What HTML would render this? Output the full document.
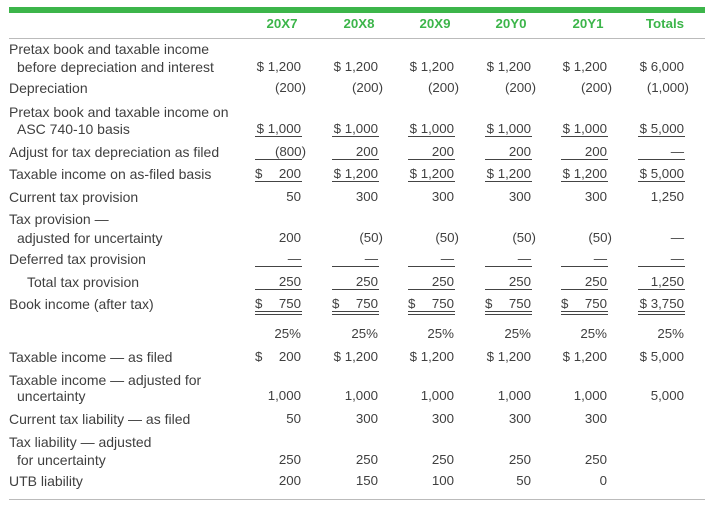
<!DOCTYPE html>
<html><head><meta charset="utf-8"><style>
body{margin:0;width:705px;height:507px;background:#fff;position:relative;overflow:hidden;font-family:"Liberation Sans",sans-serif;font-size:13.3px;color:#3f3f3f}
div{position:absolute;white-space:nowrap;line-height:16px;height:16px}
.l,.l2,.l3{font-size:14px}
.l{left:9px}.l2{left:17px}.l3{left:27px}
.h{color:#3cb54a;font-weight:bold;width:70px;text-align:center;top:16px}
.v{width:70px;text-align:right}
.a{left:231px}.b{left:308px}.c{left:384px}.d{left:461px}.e{left:537px}.f{left:614px}
.u{height:0;border-top:1px solid #444;width:47px}
.ua{left:255px}.ub{left:332px}.uc{left:408px}.ud{left:485px}.ue{left:561px}.uf{left:638px}
.s{width:46px;height:16px}
.s span{position:absolute;left:0}
.s b{font-weight:normal;position:absolute;right:0}
</style></head><body>
<div style="left:9px;top:7px;width:696px;height:6px;background:#3cb54a"></div>
<div style="left:9px;top:38px;width:696px;height:0;border-top:1px solid #bbb"></div>
<div style="left:9px;top:499px;width:696px;height:0;border-top:1px solid #bbb"></div>

<div class="h" style="left:247px">20X7</div>
<div class="h" style="left:324px">20X8</div>
<div class="h" style="left:400px">20X9</div>
<div class="h" style="left:476px">20Y0</div>
<div class="h" style="left:553px">20Y1</div>
<div class="h" style="left:630px">Totals</div>

<div class="l" style="top:41px">Pretax book and taxable income</div>
<div class="l2" style="top:59px">before depreciation and interest</div>
<div class="v a" style="top:59px">$ 1,200</div><div class="v b" style="top:59px">$ 1,200</div><div class="v c" style="top:59px">$ 1,200</div><div class="v d" style="top:59px">$ 1,200</div><div class="v e" style="top:59px">$ 1,200</div><div class="v f" style="top:59px">$ 6,000</div>

<div class="l" style="top:80px">Depreciation</div>
<div class="v a" style="top:80px;left:236px">(200)</div><div class="v b" style="top:80px;left:313px">(200)</div><div class="v c" style="top:80px;left:389px">(200)</div><div class="v d" style="top:80px;left:466px">(200)</div><div class="v e" style="top:80px;left:542px">(200)</div><div class="v f" style="top:80px;left:619px">(1,000)</div>

<div class="l" style="top:104px">Pretax book and taxable income on</div>
<div class="l2" style="top:121px">ASC 740-10 basis</div>
<div class="v a" style="top:121px">$ 1,000</div><div class="v b" style="top:121px">$ 1,000</div><div class="v c" style="top:121px">$ 1,000</div><div class="v d" style="top:121px">$ 1,000</div><div class="v e" style="top:121px">$ 1,000</div><div class="v f" style="top:121px">$ 5,000</div>
<div class="u ua" style="top:136px"></div><div class="u ub" style="top:136px"></div><div class="u uc" style="top:136px"></div><div class="u ud" style="top:136px"></div><div class="u ue" style="top:136px"></div><div class="u uf" style="top:136px"></div>

<div class="l" style="top:144px">Adjust for tax depreciation as filed</div>
<div class="v a" style="top:144px;left:236px">(800)</div><div class="v b" style="top:144px">200</div><div class="v c" style="top:144px">200</div><div class="v d" style="top:144px">200</div><div class="v e" style="top:144px">200</div><div class="v f" style="top:144px">—</div>
<div class="u ua" style="top:159px"></div><div class="u ub" style="top:159px"></div><div class="u uc" style="top:159px"></div><div class="u ud" style="top:159px"></div><div class="u ue" style="top:159px"></div><div class="u uf" style="top:159px"></div>

<div class="l" style="top:166px">Taxable income on as-filed basis</div>
<div class="s ua" style="top:166px"><span>$</span><b>200</b></div><div class="v b" style="top:166px">$ 1,200</div><div class="v c" style="top:166px">$ 1,200</div><div class="v d" style="top:166px">$ 1,200</div><div class="v e" style="top:166px">$ 1,200</div><div class="v f" style="top:166px">$ 5,000</div>
<div class="u ua" style="top:181px"></div><div class="u ub" style="top:181px"></div><div class="u uc" style="top:181px"></div><div class="u ud" style="top:181px"></div><div class="u ue" style="top:181px"></div><div class="u uf" style="top:181px"></div>

<div class="l" style="top:189px">Current tax provision</div>
<div class="v a" style="top:189px">50</div><div class="v b" style="top:189px">300</div><div class="v c" style="top:189px">300</div><div class="v d" style="top:189px">300</div><div class="v e" style="top:189px">300</div><div class="v f" style="top:189px">1,250</div>

<div class="l" style="top:211px">Tax provision —</div>
<div class="l2" style="top:230px">adjusted for uncertainty</div>
<div class="v a" style="top:230px">200</div><div class="v b" style="top:230px;left:313px">(50)</div><div class="v c" style="top:230px;left:389px">(50)</div><div class="v d" style="top:230px;left:466px">(50)</div><div class="v e" style="top:230px;left:542px">(50)</div><div class="v f" style="top:230px">—</div>

<div class="l" style="top:251px">Deferred tax provision</div>
<div class="v a" style="top:251px">—</div><div class="v b" style="top:251px">—</div><div class="v c" style="top:251px">—</div><div class="v d" style="top:251px">—</div><div class="v e" style="top:251px">—</div><div class="v f" style="top:251px">—</div>
<div class="u ua" style="top:266px"></div><div class="u ub" style="top:266px"></div><div class="u uc" style="top:266px"></div><div class="u ud" style="top:266px"></div><div class="u ue" style="top:266px"></div><div class="u uf" style="top:266px"></div>

<div class="l3" style="top:274px">Total tax provision</div>
<div class="v a" style="top:274px">250</div><div class="v b" style="top:274px">250</div><div class="v c" style="top:274px">250</div><div class="v d" style="top:274px">250</div><div class="v e" style="top:274px">250</div><div class="v f" style="top:274px">1,250</div>
<div class="u ua" style="top:289px"></div><div class="u ub" style="top:289px"></div><div class="u uc" style="top:289px"></div><div class="u ud" style="top:289px"></div><div class="u ue" style="top:289px"></div><div class="u uf" style="top:289px"></div>

<div class="l" style="top:296px">Book income (after tax)</div>
<div class="s ua" style="top:296px"><span>$</span><b>750</b></div><div class="s ub" style="top:296px"><span>$</span><b>750</b></div><div class="s uc" style="top:296px"><span>$</span><b>750</b></div><div class="s ud" style="top:296px"><span>$</span><b>750</b></div><div class="s ue" style="top:296px"><span>$</span><b>750</b></div><div class="v f" style="top:296px">$ 3,750</div>
<div class="u ua" style="top:311px"></div><div class="u ub" style="top:311px"></div><div class="u uc" style="top:311px"></div><div class="u ud" style="top:311px"></div><div class="u ue" style="top:311px"></div><div class="u uf" style="top:311px"></div>
<div class="u ua" style="top:314px"></div><div class="u ub" style="top:314px"></div><div class="u uc" style="top:314px"></div><div class="u ud" style="top:314px"></div><div class="u ue" style="top:314px"></div><div class="u uf" style="top:314px"></div>

<div class="v a" style="top:326px">25%</div><div class="v b" style="top:326px">25%</div><div class="v c" style="top:326px">25%</div><div class="v d" style="top:326px">25%</div><div class="v e" style="top:326px">25%</div><div class="v f" style="top:326px">25%</div>

<div class="l" style="top:349px">Taxable income — as filed</div>
<div class="s ua" style="top:349px"><span>$</span><b>200</b></div><div class="v b" style="top:349px">$ 1,200</div><div class="v c" style="top:349px">$ 1,200</div><div class="v d" style="top:349px">$ 1,200</div><div class="v e" style="top:349px">$ 1,200</div><div class="v f" style="top:349px">$ 5,000</div>

<div class="l" style="top:372px">Taxable income — adjusted for</div>
<div class="l2" style="top:388px">uncertainty</div>
<div class="v a" style="top:388px">1,000</div><div class="v b" style="top:388px">1,000</div><div class="v c" style="top:388px">1,000</div><div class="v d" style="top:388px">1,000</div><div class="v e" style="top:388px">1,000</div><div class="v f" style="top:388px">5,000</div>

<div class="l" style="top:411px">Current tax liability — as filed</div>
<div class="v a" style="top:411px">50</div><div class="v b" style="top:411px">300</div><div class="v c" style="top:411px">300</div><div class="v d" style="top:411px">300</div><div class="v e" style="top:411px">300</div>

<div class="l" style="top:434px">Tax liability — adjusted</div>
<div class="l2" style="top:452px">for uncertainty</div>
<div class="v a" style="top:452px">250</div><div class="v b" style="top:452px">250</div><div class="v c" style="top:452px">250</div><div class="v d" style="top:452px">250</div><div class="v e" style="top:452px">250</div>

<div class="l" style="top:473px">UTB liability</div>
<div class="v a" style="top:473px">200</div><div class="v b" style="top:473px">150</div><div class="v c" style="top:473px">100</div><div class="v d" style="top:473px">50</div><div class="v e" style="top:473px">0</div>
</body></html>
